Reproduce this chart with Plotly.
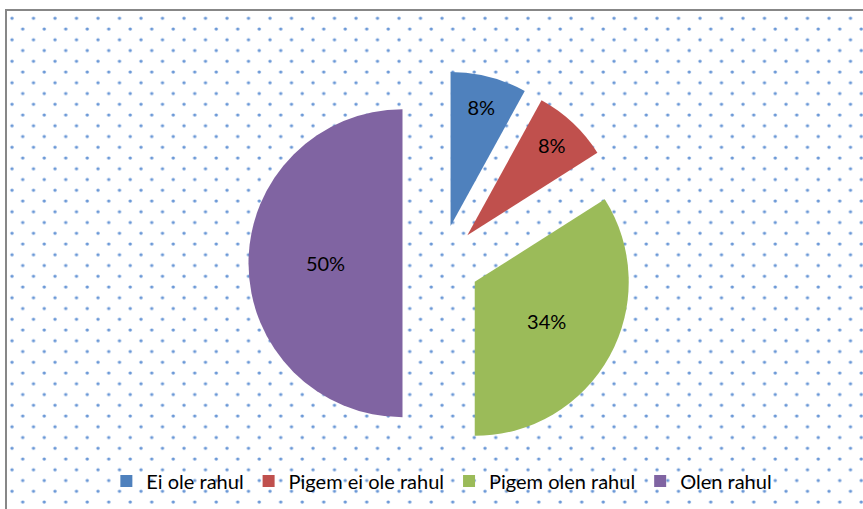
import base64
import plotly.graph_objects as go

# ---- data ----
categories = ["Ei ole rahul", "Pigem ei ole rahul", "Pigem olen rahul", "Olen rahul"]
values = [8, 8, 34, 50]
colors = ["#4F81BD", "#C0504D", "#9BBB59", "#8064A2"]
pulls = [0.25, 0.25, 0.25, 0.25]

W, H = 863, 509
FONT = "Lato"

# ---- dotted background with grey frame (decoration) ----
svg = f"""<svg xmlns='http://www.w3.org/2000/svg' width='{W}' height='{H}' viewBox='0 0 {W} {H}'>
<defs><pattern id='p' x='7' y='13.3' width='21.5' height='21.5' patternUnits='userSpaceOnUse'>
<circle cx='5' cy='5' r='1.7' fill='#4F85CF' fill-opacity='0.85'/>
<circle cx='15.75' cy='15.75' r='1.7' fill='#4F85CF' fill-opacity='0.85'/>
</pattern></defs>
<rect x='6' y='10' width='900' height='600' fill='white'/>
<rect x='6' y='10' width='900' height='600' fill='url(#p)' stroke='#878787' stroke-width='2'/>
</svg>"""
src = "data:image/svg+xml;base64," + base64.b64encode(svg.encode()).decode()

fig = go.Figure()
fig.add_trace(go.Pie(
    labels=categories,
    values=values,
    sort=False,
    direction="clockwise",
    rotation=0,
    pull=pulls,
    marker=dict(colors=colors, line=dict(width=0)),
    texttemplate="%{percent:.0%}",
    textposition="inside",
    insidetextorientation="horizontal",
    textfont=dict(family=FONT, size=20, color="black"),
    domain=dict(x=[0.2677, 0.7543], y=[0.1045, 0.8609]),
    hoverinfo="label+percent",
))

fig.update_layout(
    width=W, height=H,
    margin=dict(l=0, r=0, t=0, b=0),
    paper_bgcolor="white",
    font=dict(family=FONT, color="black"),
    showlegend=True,
    legend=dict(
        orientation="h",
        x=0.512, xanchor="center",
        y=0.055, yanchor="middle",
        font=dict(family=FONT, size=20, color="black"),
        bgcolor="rgba(0,0,0,0)",
        itemwidth=30,
    ),
    images=[dict(
        source=src, xref="paper", yref="paper",
        x=0, y=1, sizex=1, sizey=1,
        xanchor="left", yanchor="top",
        sizing="stretch", layer="below",
    )],
)

fig.write_html(
    "out.html",
    config={"displayModeBar": False},
    post_script="document.body.style.margin='0';",
)
